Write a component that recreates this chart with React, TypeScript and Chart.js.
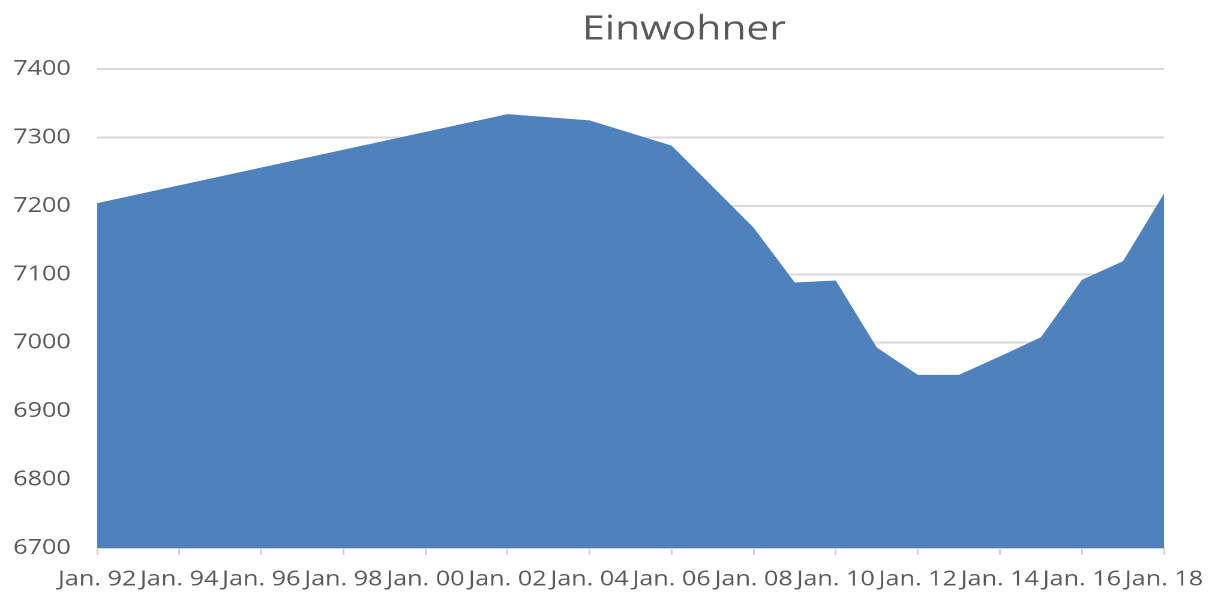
import React, { useEffect, useRef } from "react";
import { Chart, registerables } from "chart.js";

Chart.register(...registerables);

const title = "Einwohner";
const years = [1992, 2002, 2004, 2006, 2008, 2009, 2010, 2011, 2012, 2013, 2014, 2015, 2016, 2017, 2018];
const values = [7204, 7334, 7325, 7288, 7168, 7088, 7091, 6993, 6953, 6953, 6980, 7008, 7092, 7119, 7218];
const yMin = 6700;
const yMax = 7400;
const yStep = 100;
const xMin = 1992;
const xMax = 2018;
const xStep = 2;

const STRETCH = 1.2;
const OUT_W = 1218;
const OUT_H = 594;
const W = Math.round(OUT_W / STRETCH);
const FONT = '"Open Sans", "DejaVu Sans", sans-serif';
const TEXT = "#595959";

const titlePlugin = {
  id: "titlePlugin",
  afterDraw(chart: any) {
    const ctx = chart.ctx;
    ctx.save();
    ctx.font = `34px ${FONT}`;
    ctx.fillStyle = TEXT;
    ctx.textAlign = "center";
    ctx.textBaseline = "middle";
    ctx.fillText(title, 684 / STRETCH, 30);
    ctx.restore();
  },
};

export default function App() {
  const ref = useRef<HTMLCanvasElement | null>(null);

  useEffect(() => {
    document.body.style.margin = "0";
    const canvas = ref.current!;
    const chart = new Chart(canvas, {
      type: "line",
      data: {
        datasets: [
          {
            label: title,
            data: years.map((y, i) => ({ x: y, y: values[i] })),
            fill: "start",
            backgroundColor: "#4f81bd",
            borderWidth: 0,
            borderColor: "#4f81bd",
            pointRadius: 0,
            tension: 0,
          },
        ],
      },
      options: {
        animation: false,
        responsive: false,
        devicePixelRatio: 2,
        layout: { padding: { top: 69, left: 0, right: 45, bottom: 0 } },
        plugins: {
          legend: { display: false },
          title: { display: false },
          tooltip: { enabled: false },
        },
        scales: {
          x: {
            type: "linear",
            min: xMin,
            max: xMax,
            afterFit: (s: any) => {
              s.height = 46;
            },
            afterBuildTicks: (s: any) => {
              const t = [];
              for (let v = xMin; v <= xMax; v += xStep) t.push({ value: v });
              s.ticks = t;
            },
            ticks: {
              autoSkip: false,
              maxRotation: 0,
              minRotation: 0,
              padding: 12,
              color: TEXT,
              font: { family: FONT, size: 21 },
              callback: (v: any) => "Jan. " + String(Number(v) % 100).padStart(2, "0"),
            },
            grid: {
              drawOnChartArea: false,
              drawTicks: true,
              tickLength: 7,
              color: "#d0d0d0",
              lineWidth: 1.5,
            },
            border: { display: true, color: "#d0d0d0", width: 1.5 },
          },
          y: {
            min: yMin,
            max: yMax,
            afterFit: (s: any) => {
              s.width = 81;
            },
            ticks: {
              stepSize: yStep,
              padding: 22,
              color: TEXT,
              font: { family: FONT, size: 21 },
              callback: (v: any) => String(v),
            },
            grid: { color: "#d9d9d9", lineWidth: 2, drawTicks: false },
            border: { display: false },
          },
        },
      },
      plugins: [titlePlugin],
    });
    return () => chart.destroy();
  }, []);

  return (
    <div style={{ width: OUT_W, height: OUT_H }}>
      <canvas
        ref={ref}
        width={W}
        height={OUT_H}
        style={{ width: OUT_W + "px", height: OUT_H + "px", display: "block" }}
      />
    </div>
  );
}
